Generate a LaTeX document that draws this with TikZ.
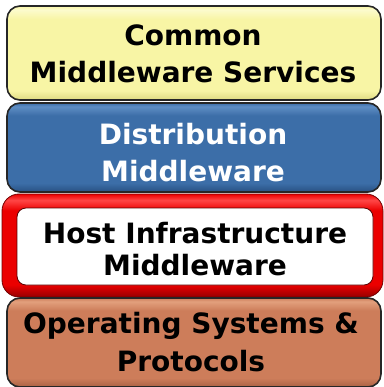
\documentclass[tikz,border=0pt]{standalone}
\usepackage{fontspec}
\setmainfont{DejaVu Sans}
\definecolor{ylwTop}{RGB}{252,251,205}
\definecolor{ylwMid}{RGB}{248,245,165}
\definecolor{ylwBot}{RGB}{222,218,130}
\definecolor{bluTop}{RGB}{95,142,196}
\definecolor{bluMid}{RGB}{60,110,168}
\definecolor{bluBot}{RGB}{40,80,130}
\definecolor{brnTop}{RGB}{226,160,125}
\definecolor{brnMid}{RGB}{205,125,90}
\definecolor{brnBot}{RGB}{170,98,68}
\definecolor{redTop}{RGB}{255,70,70}
\definecolor{redMid}{RGB}{235,0,0}
\definecolor{redBot}{RGB}{150,0,0}
% glossy vertical shadings: narrow light band on top, dark band at the bottom
\pgfdeclareverticalshading{ylwGloss}{100bp}{color(0bp)=(ylwBot); color(25bp)=(ylwBot);
  color(30bp)=(ylwMid); color(68bp)=(ylwMid); color(73bp)=(ylwTop); color(75bp)=(ylwMid); color(100bp)=(ylwMid)}
\pgfdeclareverticalshading{bluGloss}{100bp}{color(0bp)=(bluBot); color(25bp)=(bluBot);
  color(30bp)=(bluMid); color(68bp)=(bluMid); color(73bp)=(bluTop); color(75bp)=(bluMid); color(100bp)=(bluMid)}
\pgfdeclareverticalshading{brnGloss}{100bp}{color(0bp)=(brnBot); color(25bp)=(brnBot);
  color(30bp)=(brnMid); color(68bp)=(brnMid); color(73bp)=(brnTop); color(75bp)=(brnMid); color(100bp)=(brnMid)}
\pgfdeclareverticalshading{redGloss}{100bp}{color(0bp)=(redBot); color(25bp)=(redBot);
  color(31bp)=(redMid); color(67bp)=(redMid); color(72bp)=(redTop); color(75bp)=(redMid); color(100bp)=(redMid)}
\begin{document}
\begin{tikzpicture}[x=1pt,y=1pt,
  layer/.style={draw=black!85, line width=1.6pt, rounded corners=13pt},
  lbl/.style={font=\fontsize{28}{34}\selectfont\bfseries, anchor=base, inner sep=0pt},
]
\useasboundingbox (0,0) rectangle (383,-387);

% layer boxes
\path[layer, shading=ylwGloss] (7,-6) rectangle (381,-100);
\path[layer, shading=bluGloss] (7,-103) rectangle (381,-192);
\path[draw=red!45!black, line width=0.8pt, rounded corners=17pt, shading=redGloss]
  (2,-194) rectangle (383,-297);
\path[fill=white, draw=red!35!black, line width=0.8pt, rounded corners=9pt]
  (17,-208) rectangle (373,-285);
\path[layer, shading=brnGloss] (7,-298) rectangle (381,-387);

% labels
\node[lbl] (cms1) at (193,-46) {Common};
\node[lbl] (cms2) at (193,-83) {Middleware Services};
\node[lbl, text=white] (dm1) at (193,-145) {Distribution};
\node[lbl, text=white] (dm2) at (193,-181) {Middleware};
\node[lbl] (him1) at (195,-243) {Host Infrastructure};
\node[lbl] (him2) at (195,-275) {Middleware};
\node[lbl] (osp1) at (191,-333) {Operating Systems \&};
\node[lbl] (osp2) at (191,-371) {Protocols};
\end{tikzpicture}
\end{document}
